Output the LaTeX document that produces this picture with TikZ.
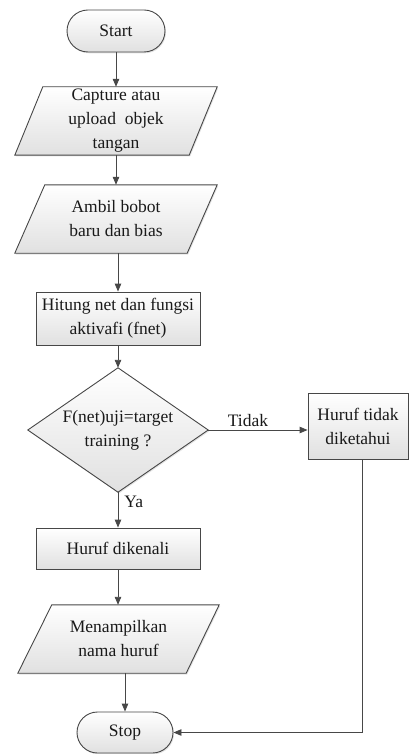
\documentclass[tikz,border=0pt]{standalone}
\usepackage{fontspec}
\setmainfont{Liberation Serif}
\usetikzlibrary{arrows.meta,shapes.misc,shadows,backgrounds,calc}
\begin{document}
\begin{tikzpicture}[x=1pt,y=-1pt,
  every node/.style={font=\rmfamily\fontsize{17.5}{24}\selectfont, text=black!90, align=center},
  boxfill/.style={draw=black!72, line width=0.9pt, top color=white, bottom color=black!12,
    drop shadow={opacity=0.22, shadow xshift=1pt, shadow yshift=-1.3pt}},
  term/.style={boxfill, rounded rectangle, inner sep=0pt},
  proc/.style={boxfill, rectangle, inner sep=0pt},
  txt/.style={rectangle, draw=none, inner sep=0pt},
  lbl/.style={inner sep=1pt},
  conn/.style={draw=black!72, line width=0.9pt, -{Triangle[length=8pt,width=6.5pt]}}]
\useasboundingbox (0,0) rectangle (409,754);

\node[term, minimum width=98pt, minimum height=42pt] (start) at (116,31) {Start};
\node[txt, minimum width=202pt, minimum height=68pt] (cap) at (116,121) {Capture atau\\upload~ objek\\tangan};
\node[txt, minimum width=202pt, minimum height=68pt] (amb) at (116,219) {Ambil bobot\\baru dan bias};
\node[proc, minimum width=164pt, minimum height=53pt] (hit) at (118,318.5) {Hitung net dan fungsi\\aktivafi (fnet)};
\node[txt, minimum width=180pt, minimum height=124pt] (dec) at (118,430) {F(net)uji=target\\training ?};
\node[proc, minimum width=100pt, minimum height=66pt] (tid) at (358,426) {Huruf tidak\\diketahui};
\node[proc, minimum width=164pt, minimum height=41pt] (ken) at (118,548.5) {Huruf dikenali};
\node[txt, minimum width=201pt, minimum height=68pt] (men) at (118.5,639) {Menampilkan\\nama huruf};
\node[term, minimum width=96pt, minimum height=41pt] (stop) at (125,732.5) {Stop};

\begin{scope}[on background layer]
  \draw[boxfill] ($(cap.north west)+(28,0)$) -- (cap.north east) -- ($(cap.south east)-(28,0)$) -- (cap.south west) -- cycle;
  \draw[boxfill] ($(amb.north west)+(30,0)$) -- (amb.north east) -- ($(amb.south east)-(30,0)$) -- (amb.south west) -- cycle;
  \draw[boxfill] ($(men.north west)+(34,0)$) -- (men.north east) -- ($(men.south east)-(33,0)$) -- (men.south west) -- cycle;
  \draw[boxfill] (dec.north) -- (dec.east) -- (dec.south) -- (dec.west) -- cycle;
\end{scope}

\draw[conn] (start.south) -- (cap.north);
\draw[conn] (cap.south) -- (amb.north);
\draw[conn] (amb.south -| hit.north) -- (hit.north);
\draw[conn] (hit.south) -- (dec.north);
\draw[conn] (dec.east) -- node[lbl, above, pos=0.4, yshift=2pt] {Tidak} (dec.east -| tid.west);
\draw[conn] (dec.south) -- node[lbl, pos=0, anchor=north west, xshift=5pt, yshift=-2pt] {Ya} (ken.north);
\draw[conn] (ken.south) -- (ken.south |- men.north);
\draw[conn] (men.south -| stop.north) -- (stop.north);
\draw[conn] ([xshift=4pt]tid.south) |- (stop.east);
\end{tikzpicture}
\end{document}
